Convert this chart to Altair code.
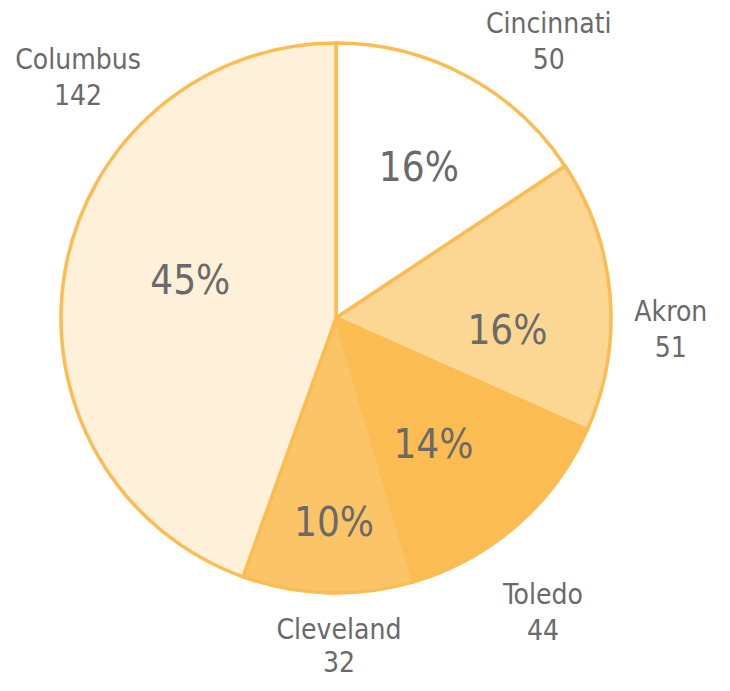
import altair as alt
import pandas as pd

categories = ["Cincinnati", "Akron", "Toledo", "Cleveland", "Columbus"]
values = [50, 51, 44, 32, 142]

fills = ["#FFFFFF", "#FCD693", "#FBBC52", "#FBC466", "#FEF0D9"]
ORANGE = "#FBBC52"
TEXT = "#6A6A6A"
FONT = "DejaVu Sans Condensed"

total = sum(values)
df = pd.DataFrame({"category": categories, "value": values})
df["idx"] = range(len(df))
df["cum"] = df["value"].cumsum()
df["mid"] = df["cum"] - df["value"] / 2
df["pct"] = (df["value"] / total * 100).round().astype(int).astype(str) + "%"
df["label"] = df["category"] + "\n" + df["value"].astype(str)

CX, CY, R = 328, 310, 275
theta_scale = alt.Scale(domain=[0, total])

base = alt.Chart(df)

arcs = base.mark_arc(outerRadius=R, stroke=ORANGE, strokeWidth=3.5).encode(
    theta=alt.Theta("value:Q", stack=True, scale=theta_scale),
    order=alt.Order("idx:Q"),
    color=alt.Color("category:N", scale=alt.Scale(domain=categories, range=fills), legend=None),
    x=alt.value(CX),
    y=alt.value(CY),
)

# label style: (radius, dx, dy, lineHeight) for percentage and name labels
pct_style = {
    "Cincinnati": (171, 2, 2),
    "Akron": (172, 0, 28),
    "Toledo": (160, -8, 8),
    "Cleveland": (204, 4, 2),
    "Columbus": (150, 2, -10),
}
name_style = {
    "Cincinnati": (340, 52, 7, 36),
    "Akron": (340, -4, 23, 36),
    "Toledo": (340, -17, 22, 36),
    "Cleveland": (340, 13, -27, 33),
    "Columbus": (340, 77, -199, 36),
}

layers = [arcs]
for cat in categories:
    r, dx, dy = pct_style[cat]
    layers.append(
        base.transform_filter(alt.datum.category == cat).mark_text(
            radius=r, dx=dx, dy=dy, font=FONT, fontSize=40, color=TEXT,
            align="center", baseline="middle"
        ).encode(
            theta=alt.Theta("mid:Q", stack=False, scale=theta_scale),
            text="pct:N",
            x=alt.value(CX),
            y=alt.value(CY),
        )
    )
    r, dx, dy, lh = name_style[cat]
    layers.append(
        base.transform_filter(alt.datum.category == cat).mark_text(
            radius=r, dx=dx, dy=dy, font=FONT, fontSize=28, color=TEXT,
            align="center", baseline="middle", lineBreak="\n", lineHeight=lh
        ).encode(
            theta=alt.Theta("mid:Q", stack=False, scale=theta_scale),
            text="label:N",
            x=alt.value(CX),
            y=alt.value(CY),
        )
    )

chart = alt.layer(*layers).properties(
    width=714, height=675, padding=0, autosize=alt.AutoSizeParams(type="none")
).configure_view(stroke=None)

chart.save("out.html", embed_options={"renderer": "svg", "actions": False})
